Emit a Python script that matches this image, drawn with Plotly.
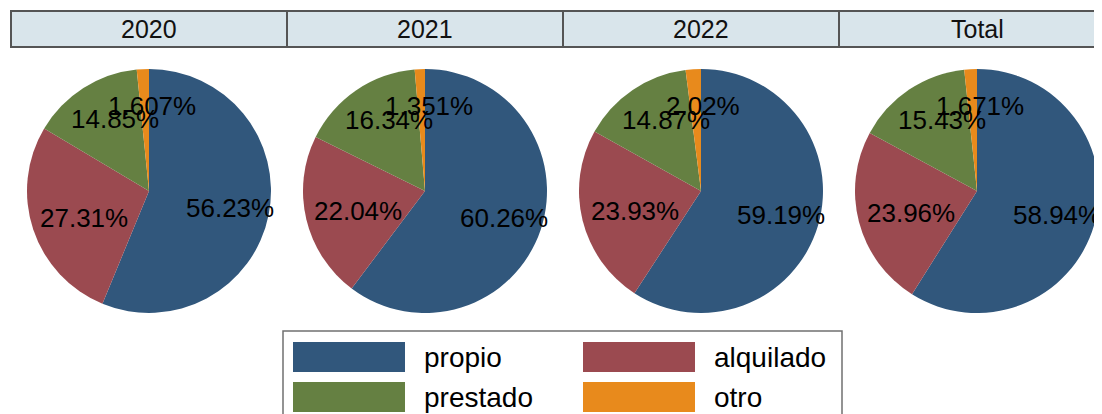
import math
import plotly.graph_objects as go

# ---- data ----
panels = ["2020", "2021", "2022", "Total"]
categories = ["propio", "alquilado", "prestado", "otro"]
values_2020 = [56.23, 27.31, 14.85, 1.607]
values_2021 = [60.26, 22.04, 16.34, 1.351]
values_2022 = [59.19, 23.93, 14.87, 2.02]
values_total = [58.94, 23.96, 15.43, 1.671]
label_text_2020 = ["56.23%", "27.31%", "14.85%", "1.607%"]
label_text_2021 = ["60.26%", "22.04%", "16.34%", "1.351%"]
label_text_2022 = ["59.19%", "23.93%", "14.87%", "2.02%"]
label_text_total = ["58.94%", "23.96%", "15.43%", "1.671%"]
colors = ["#31577C", "#9B4A50", "#658042", "#E88A1C"]

all_values = [values_2020, values_2021, values_2022, values_total]
all_labels = [label_text_2020, label_text_2021, label_text_2022, label_text_total]

# the page body has an 8px margin, so the figure is drawn 8px in from the corner
OFF = 8
W, H = 1102 - OFF, 414 - OFF
FONT = "Arial, Liberation Sans, sans-serif"


def px(x):
    return (x - OFF) / W


def py(y):
    return 1 - (y - OFF) / H


fig = go.Figure()
shapes = []
annotations = []

panel_left = 11
panel_w = 276
radius = 122
cy = 191
label_kx = 0.62
label_ky = 0.70

for i, (name, vals, labs) in enumerate(zip(panels, all_values, all_labels)):
    x0 = panel_left + panel_w * i
    cx = x0 + 138
    fig.add_trace(go.Pie(
        labels=categories, values=vals, sort=False, direction="clockwise",
        rotation=0, marker=dict(colors=colors, line=dict(width=0)),
        textinfo="none", hoverinfo="label+percent", showlegend=False,
        domain=dict(x=[px(cx - radius), px(cx + radius)],
                    y=[py(cy + radius), py(cy - radius)]),
    ))
    # header strip
    shapes.append(dict(type="rect", xref="paper", yref="paper",
                       x0=px(x0), x1=px(x0 + panel_w), y0=py(47), y1=py(11),
                       fillcolor="#D9E5EB", line=dict(color="#555555", width=2)))
    annotations.append(dict(x=px(x0 + panel_w / 2), y=py(29), xref="paper", yref="paper",
                            text=name, showarrow=False, xanchor="center", yanchor="middle",
                            font=dict(family=FONT, size=25, color="#111111")))
    # slice labels
    total = sum(vals)
    cum = 0.0
    for v, t in zip(vals, labs):
        mid = (cum + v / 2) / total * 2 * math.pi
        cum += v
        lx = cx + radius * label_kx * math.sin(mid) + 7
        ly = cy - radius * label_ky * math.cos(mid)
        annotations.append(dict(x=px(lx), y=py(ly), xref="paper", yref="paper",
                                text=t, showarrow=False, xanchor="center", yanchor="middle",
                                font=dict(family=FONT, size=26, color="#000000")))

# legend box
shapes.append(dict(type="rect", xref="paper", yref="paper",
                   x0=px(283), x1=px(842), y0=py(420), y1=py(331),
                   fillcolor="white", line=dict(color="#707070", width=1.5)))
legend_cols = [293, 583]
legend_rows = [342, 382]
for k, (cat, col) in enumerate(zip(categories, colors)):
    lx = legend_cols[k % 2]
    ly = legend_rows[k // 2]
    shapes.append(dict(type="rect", xref="paper", yref="paper",
                       x0=px(lx), x1=px(lx + 112), y0=py(ly + 30), y1=py(ly),
                       fillcolor=col, line=dict(color=col, width=0)))
    annotations.append(dict(x=px(lx + 129), y=py(ly + 15), xref="paper", yref="paper",
                            text=cat, showarrow=False, xanchor="left", yanchor="middle",
                            font=dict(family=FONT, size=28, color="#000000")))

fig.update_layout(
    width=W, height=H, margin=dict(l=0, r=0, t=0, b=0),
    paper_bgcolor="white", plot_bgcolor="white",
    shapes=shapes, annotations=annotations, showlegend=False,
)

fig.write_html("out.html")
